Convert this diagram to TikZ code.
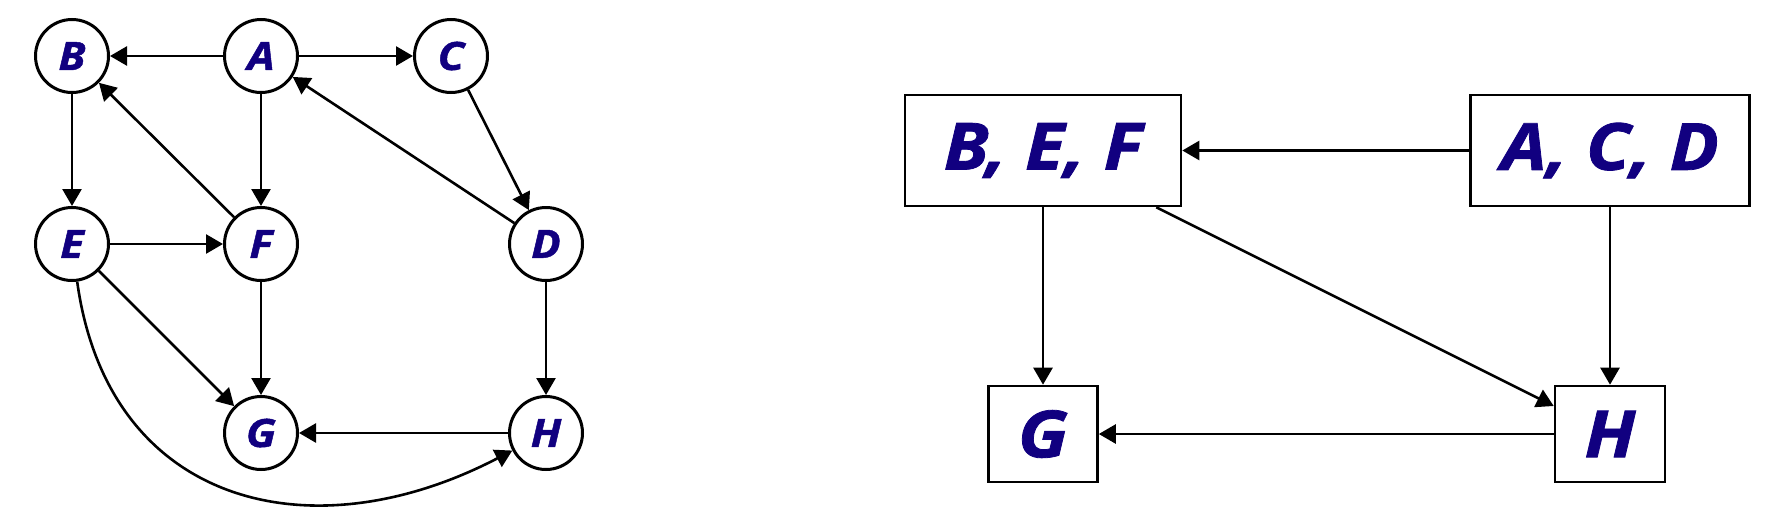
\documentclass[tikz,border=0pt]{standalone}
\usepackage{fontspec}
\setmainfont{Open Sans}[BoldItalicFeatures={FakeStretch=1.12,FakeBold=1.2}]
\usetikzlibrary{arrows.meta}
\definecolor{navyletter}{RGB}{17,0,128}
\begin{document}
\begin{tikzpicture}[x=1pt,y=-1pt,
  vertex/.style={circle,draw,line width=3pt,minimum size=73pt,inner sep=0pt,
    font=\fontsize{39}{42}\selectfont\bfseries\itshape,text=navyletter},
  group/.style={rectangle,draw,line width=2.6pt,inner sep=0pt,
    font=\fontsize{65}{70}\selectfont\bfseries\itshape,text=navyletter},
  edge/.style={line width=2.6pt,-{Triangle[length=17pt,width=19pt]}}]
\useasboundingbox (0,0) rectangle (1780,514);
% left graph
\node[vertex] (B) at (72,56) {B};
\node[vertex] (A) at (261,56) {A};
\node[vertex] (C) at (451,56) {C};
\node[vertex] (E) at (72,244) {E};
\node[vertex] (F) at (261,244) {F};
\node[vertex] (D) at (546,244) {D};
\node[vertex] (G) at (261,433) {G};
\node[vertex] (H) at (546,433) {H};
\draw[edge] (A) -- (B);
\draw[edge] (A) -- (C);
\draw[edge] (A) -- (F);
\draw[edge] (B) -- (E);
\draw[edge] (C) -- (D);
\draw[edge] (D) -- (A);
\draw[edge] (F) -- (B);
\draw[edge] (E) -- (F);
\draw[edge] (E) -- (G);
\draw[edge] (F) -- (G);
\draw[edge] (D) -- (H);
\draw[edge] (H) -- (G);
\draw[edge] (E) .. controls (108,505) and (310,556) .. (H);
% right graph
\node[group,minimum width=276pt,minimum height=111pt] (BEF) at (1043,150.5) {B, E, F};
\node[group,minimum width=279pt,minimum height=111pt] (ACD) at (1610,150.5) {A, C, D};
\node[group,minimum width=109pt,minimum height=96pt] (G2) at (1043,434) {G};
\node[group,minimum width=110pt,minimum height=96pt] (H2) at (1610,434) {H};
\draw[edge] (ACD) -- (BEF);
\draw[edge] (ACD) -- (H2);
\draw[edge] (BEF) -- (G2);
\draw[edge] (BEF) -- (H2);
\draw[edge] (H2) -- (G2);
\end{tikzpicture}
\end{document}
